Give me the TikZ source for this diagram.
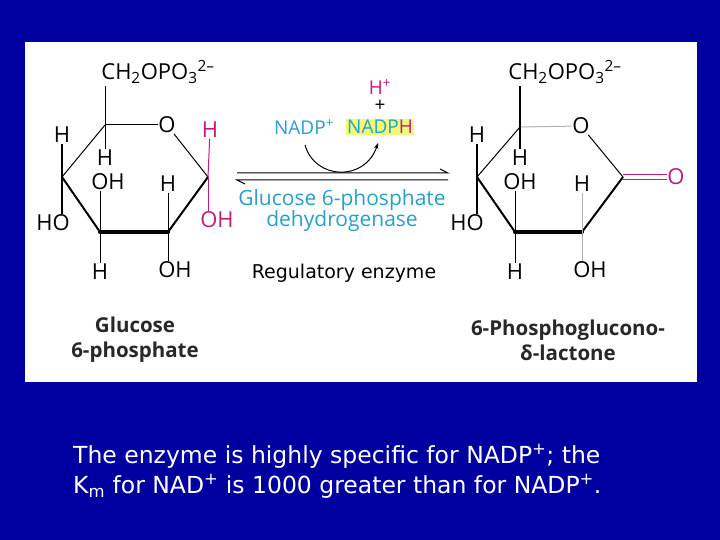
\documentclass[tikz,border=0pt]{standalone}
\usepackage{fontspec}
\usetikzlibrary{calc,arrows.meta}
\setmainfont{Open Sans}
\newfontfamily\vfont{DejaVu Sans}
\definecolor{bgblue}{RGB}{0,0,160}
\definecolor{teal1}{RGB}{40,160,200}
\definecolor{mag}{RGB}{190,30,120}
\definecolor{hl}{RGB}{240,250,120}
\definecolor{lblgray}{RGB}{40,40,40}
\begin{document}
\begin{tikzpicture}[x=1pt,y=-1pt,
 atom/.style={inner sep=0.5pt,font=\fontsize{22}{22}\selectfont},
 bnd/.style={line width=1pt},
 thk/.style={line width=2pt},
 bld/.style={line width=4pt},
 enz/.style={text=teal1,font=\fontsize{21}{23}\selectfont,align=center},
 molname/.style={font=\bfseries\fontsize{20.5}{25}\selectfont,text=lblgray,align=center}]
\useasboundingbox (0,0) rectangle (720,540);
\fill[bgblue] (0,0) rectangle (720,540);
\fill[white] (25,42) rectangle (697,382);
% ---- left ring ----
\coordinate (a5) at (105,125); \coordinate (a1) at (208,177);
\coordinate (a2) at (168,232); \coordinate (a3) at (100,232); \coordinate (a4) at (62,177);
\node[atom] (aO) at (167,125) {O};
\node[atom] (aCH) at (158,72) {CH\textsubscript{2}OPO\textsubscript{3}\textsuperscript{2–}};
\draw[bnd] (a5) -- (aO); \draw[bnd] (aO) -- (a1);
\draw[bnd] (a4) -- (a5);
\draw[thk] (a1) -- (a2); \draw[thk] (a3) -- (a4);
\draw[bld,line cap=round] (a2) -- (a3);
\draw[bnd] (a5) -- (105,86);
\node[atom] (aH5) at (105,158) {H}; \draw[bnd] (a5) -- (aH5);
\node[atom] (aH4) at (62,135) {H}; \draw[thk] (a4) -- (aH4);
\node[atom] (aHO4) at (53,223) {HO}; \draw[thk] (a4) -- (aHO4.north -| a4);
\node[atom] (aOH3) at (108,182) {OH}; \draw[bnd] (a3) -- (aOH3.south -| a3);
\node[atom] (aH3) at (100,272) {H}; \draw[bnd] (a3) -- (aH3);
\node[atom] (aH2) at (168,184) {H}; \draw[bnd] (a2) -- (aH2);
\node[atom] (aOH2) at (175,270) {OH}; \draw[bnd] (a2) -- (aOH2.north -| a2);
\node[atom,text=mag] (aH1) at (210,130) {H}; \draw[bnd,mag] (a1) -- (aH1);
\node[atom,text=mag] (aOH1) at (217,220) {OH}; \draw[bnd,mag] (a1) -- (aOH1.north -| a1);
% ---- right ring ----
\coordinate (b5) at (520,127); \coordinate (b1) at (623,177);
\coordinate (b2) at (582,232); \coordinate (b3) at (515,232); \coordinate (b4) at (477,177);
\node[atom] (bO) at (581,126) {O};
\node[atom] (bCH) at (565,72) {CH\textsubscript{2}OPO\textsubscript{3}\textsuperscript{2–}};
\draw[bnd,gray!60] (b5) -- (bO); \draw[bnd] (bO) -- (b1);
\draw[bnd] (b4) -- (b5);
\draw[thk] (b1) -- (b2); \draw[thk] (b3) -- (b4);
\draw[bld,line cap=round] (b2) -- (b3);
\draw[thk] (b5) -- (520,86);
\node[atom] (bH5) at (520,158) {H}; \draw[thk] (b5) -- (bH5);
\node[atom] (bH4) at (477,135) {H}; \draw[thk] (b4) -- (bH4);
\node[atom] (bHO4) at (467,223) {HO}; \draw[thk] (b4) -- (bHO4.north -| b4);
\node[atom] (bOH3) at (520,182) {OH}; \draw[bnd] (b3) -- (bOH3.south -| b3);
\node[atom] (bH3) at (515,272) {H}; \draw[bnd] (b3) -- (bH3);
\node[atom] (bH2) at (582,184) {H}; \draw[bnd,gray!60] (b2) -- (bH2);
\node[atom] (bOH2) at (590,270) {OH}; \draw[bnd,gray!60] (b2) -- (bOH2.north -| b2);
\node[atom,text=mag] (bOd) at (676,177) {O};
\draw[bnd,mag] ($(b1)+(0,-2.5)$) -- ($(bOd.west)+(0,-2.5)$);
\draw[bnd,mag] ($(b1)+(0,2.5)$) -- ($(bOd.west)+(0,2.5)$);
% ---- arrows ----
\coordinate (r1) at (237,173); \coordinate (r2) at (448,173);
\coordinate (l1) at (237,180); \coordinate (l2) at (448,180);
\draw[bnd] (r1) -- (r2) -- ++(-8,-4);
\draw[bnd] (l2) -- (l1) -- ++(8,4);
\node[text=teal1,font=\fontsize{19}{19}\selectfont] (nadp) at (304,127) {NADP\textsuperscript{+}};
\node[fill=hl,inner sep=1pt,font=\fontsize{19}{19}\selectfont] (nadph) at (380,127) {\textcolor{teal1}{NADP}\textcolor{mag}{H}};
\node[font=\fontsize{19}{19}\selectfont] (plus) at (380,106) {+};
\node[text=mag,font=\fontsize{19}{19}\selectfont] (hp) at (380,87) {H\textsuperscript{+}};
\coordinate (cs) at (305,145); \coordinate (ce) at (378,143);
\draw[bnd,-{Stealth[length=6pt]}] (cs) .. controls (315,180) and (365,182) .. (ce);
\node[enz] (enzn) at (342,211) {Glucose 6-phosphate\\[-2pt]dehydrogenase};
\node[font=\vfont\fontsize{19}{19}\selectfont] (reg) at (344,273) {Regulatory enzyme};
\node[molname] (n1) at (135,340) {Glucose\\6-phosphate};
\node[molname] (n2) at (568,340) {6-Phosphoglucono-\\δ-lactone};
\node[text=white,align=left,anchor=north west,inner sep=0pt,font=\vfont\fontsize{23.5}{30}\selectfont] (txt) at (73,444)
 {The enzyme is highly specific for NADP\textsuperscript{+}; the\\K\textsubscript{m} for NAD\textsuperscript{+} is 1000 greater than for NADP\textsuperscript{+}.};
\end{tikzpicture}
\end{document}
